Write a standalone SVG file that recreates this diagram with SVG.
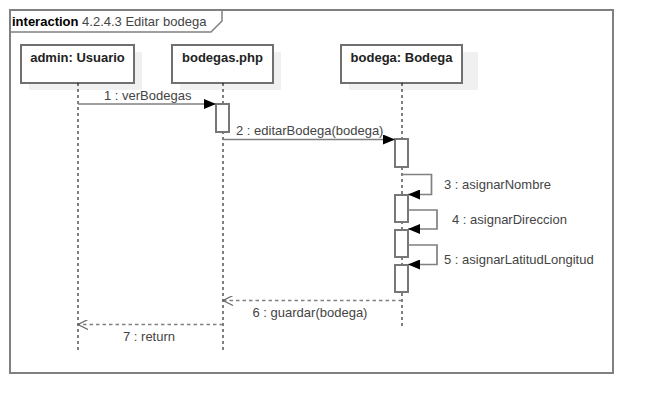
<svg xmlns="http://www.w3.org/2000/svg" width="653" height="413" viewBox="0 0 653 413">
<defs>
<marker id="filled" markerWidth="12" markerHeight="10" refX="12" refY="5" orient="auto" markerUnits="userSpaceOnUse">
<path d="M0,0 L12,5 L0,10 Z" fill="#000"/>
</marker>
<marker id="open" markerWidth="12" markerHeight="10" refX="11" refY="5" orient="auto" markerUnits="userSpaceOnUse">
<path d="M1,0 L11,5 L1,10" fill="none" stroke="#666" stroke-width="1.2"/>
</marker>
</defs>
<style>
.frame{fill:#fff;stroke:#808080;stroke-width:2}
.box{fill:#fff;stroke:#707070;stroke-width:2}
.shadow{fill:#f0f0f0;stroke:none}
.lbl{font-family:"Liberation Sans",Arial,sans-serif;font-size:13px;font-weight:bold;fill:#222;text-anchor:middle}
.life{stroke:#000;stroke-width:1;stroke-dasharray:3,3;fill:none}
.act{fill:#fff;stroke:#777;stroke-width:2}
.msg{stroke:#808080;stroke-width:1.7;fill:none}
.ret{stroke:#808080;stroke-width:1.7;fill:none;stroke-dasharray:3.5,3}
.mt{font-family:"Liberation Sans",Arial,sans-serif;font-size:13px;fill:#444}
.title{font-family:"Liberation Sans",Arial,sans-serif;font-size:13px;fill:#444}
</style>
<rect width="653" height="413" fill="#fff"/>
<g id="frame">
<rect class="frame" x="10" y="10" width="603" height="363"/>
<path d="M10,32 L211,32 L222,21 L222,10" fill="none" stroke="#808080" stroke-width="1.5"/>
<text class="title" x="12" y="26"><tspan font-weight="bold" fill="#000">interaction</tspan> 4.2.4.3 Editar bodega</text>
</g>
<g id="admin">
<rect class="shadow" x="29" y="52" width="113" height="38"/>
<rect class="box" x="21" y="45" width="113" height="38"/>
<text class="lbl" x="77.5" y="62">admin: Usuario</text>
<line class="life" x1="78" y1="83" x2="78" y2="351"/>
</g>
<g id="bodegas_php">
<rect class="shadow" x="180" y="52" width="101" height="38"/>
<rect class="box" x="172" y="45" width="101" height="38"/>
<text class="lbl" x="222.5" y="62">bodegas.php</text>
<line class="life" x1="223" y1="83" x2="223" y2="351"/>
<rect class="act" x="216" y="104" width="13" height="28"/>
</g>
<g id="bodega">
<rect class="shadow" x="349" y="52" width="129" height="38"/>
<rect class="box" x="341" y="45" width="121" height="38"/>
<text class="lbl" x="401.5" y="62">bodega: Bodega</text>
<line class="life" x1="402" y1="83" x2="402" y2="327"/>
<rect class="act" x="395" y="139" width="13" height="28"/>
<rect class="act" x="395" y="195" width="13" height="27"/>
<rect class="act" x="395" y="230" width="13" height="27"/>
<rect class="act" x="395" y="265" width="13" height="27"/>
</g>
<g id="connectors">
<line class="msg" x1="78" y1="104" x2="216" y2="104" marker-end="url(#filled)"/>
<text class="mt" x="104" y="100">1 : verBodegas</text>
<line class="msg" x1="223" y1="139.5" x2="395" y2="139.5" marker-end="url(#filled)"/>
<text class="mt" x="236" y="135">2 : editarBodega(bodega)</text>
<path class="msg" d="M402,174.5 H431.5 V194.5 H408" marker-end="url(#filled)"/>
<text class="mt" x="444" y="189">3 : asignarNombre</text>
<path class="msg" d="M408,210 H437 V229 H408" marker-end="url(#filled)"/>
<text class="mt" x="452" y="224">4 : asignarDireccion</text>
<path class="msg" d="M408,245 H437 V264.5 H408" marker-end="url(#filled)"/>
<text class="mt" x="444" y="264">5 : asignarLatitudLongitud</text>
<line class="ret" x1="402" y1="300.5" x2="223" y2="300.5" marker-end="url(#open)"/>
<text class="mt" x="310" y="317" text-anchor="middle">6 : guardar(bodega)</text>
<line class="ret" x1="223" y1="324.5" x2="78" y2="324.5" marker-end="url(#open)"/>
<text class="mt" x="149" y="341" text-anchor="middle">7 : return</text>
</g>
</svg>
